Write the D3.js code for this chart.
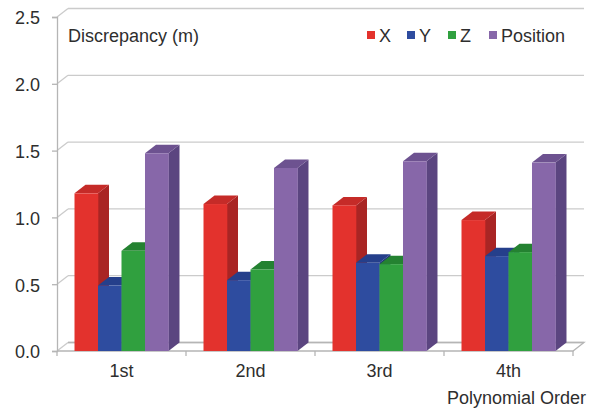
<!DOCTYPE html>
<html>
<head>
<meta charset="utf-8">
<script src="https://cdn.jsdelivr.net/npm/d3@7"></script>
<style>
  html, body { margin: 0; padding: 0; background: #fff; }
  svg { display: block; font-family: "Liberation Sans", Arial, sans-serif; }
</style>
</head>
<body>
<svg id="chart" width="594" height="408"></svg>
<script>
// Discrepancy by polynomial order, per component
const categories = ["1st", "2nd", "3rd", "4th"];
const seriesNames = ["X", "Y", "Z", "Position"];
const xValues = [1.18, 1.10, 1.09, 0.98];
const yValues = [0.49, 0.53, 0.66, 0.71];
const zValues = [0.75, 0.61, 0.65, 0.74];
const positionValues = [1.48, 1.37, 1.42, 1.41];
const yTicks = [0, 0.5, 1.0, 1.5, 2.0, 2.5];

const seriesValues = [xValues, yValues, zValues, positionValues];
const palette = [
  { front: "#e3322d", top: "#c52b28", side: "#a92524" },
  { front: "#2e4c9f", top: "#253f8b", side: "#1f3476" },
  { front: "#30a03f", top: "#248231", side: "#1e6e2a" },
  { front: "#8767a9", top: "#6d5290", side: "#5b4580" }
];

const svg = d3.select("#chart");
const left = 57, right = 573, bottom = 351, topY = 17;
const depth = { dx: 11, dy: -8.5 };

const y = d3.scaleLinear().domain([0, 2.5]).range([bottom, topY]);
const x0 = d3.scaleBand().domain(categories).range([left, right]).padding(0);
const x1 = d3.scaleBand().domain(seriesNames).range([0, x0.bandwidth()])
  .paddingInner(0).paddingOuter(0.745);

const grid = "#cbcbcb";
const axisColor = "#b5b5b5";
const textColor = "#2e2e2e";

// Back wall gridlines and side-wall connectors
const g = svg.append("g");
yTicks.forEach(t => {
  const yf = y(t);
  g.append("line")
    .attr("x1", left + depth.dx).attr("y1", yf + depth.dy)
    .attr("x2", right + depth.dx).attr("y2", yf + depth.dy)
    .attr("stroke", grid).attr("stroke-width", 1.3);
  g.append("line")
    .attr("x1", left).attr("y1", yf)
    .attr("x2", left + depth.dx).attr("y2", yf + depth.dy)
    .attr("stroke", grid).attr("stroke-width", 1.3);
});

// Floor outline
g.append("path")
  .attr("d", `M${left},${bottom} L${right},${bottom} L${right + depth.dx},${bottom + depth.dy} L${left + depth.dx},${bottom + depth.dy}`)
  .attr("fill", "none").attr("stroke", axisColor).attr("stroke-width", 1.3);

// Vertical axis with ticks and labels
const yAxis = d3.axisLeft(y).tickValues(yTicks).tickFormat(d3.format(".1f"))
  .tickSize(5).tickPadding(12);
const ya = svg.append("g").attr("transform", `translate(${left},0)`).call(yAxis);
ya.select(".domain").attr("stroke", axisColor).attr("stroke-width", 1.3);
ya.selectAll(".tick line").attr("stroke", axisColor).attr("stroke-width", 1.3);
ya.selectAll(".tick text").attr("fill", textColor)
  .style("font-size", "18px").attr("dy", "0.38em");

// Category ticks along the floor front edge
const bounds = categories.map(c => x0(c)).concat([right]);
bounds.forEach(b => {
  g.append("line").attr("x1", b).attr("x2", b)
    .attr("y1", bottom).attr("y2", bottom + 5)
    .attr("stroke", axisColor).attr("stroke-width", 1.3);
});

// Category labels
svg.append("g").selectAll("text").data(categories).join("text")
  .attr("x", d => x0(d) + x0.bandwidth() / 2)
  .attr("y", 377)
  .attr("text-anchor", "middle")
  .attr("fill", textColor).style("font-size", "18px")
  .text(d => d);

// 3D bars: front face, side face, top face
const bars = svg.append("g");
categories.forEach((cat, ci) => {
  seriesNames.forEach((s, si) => {
    const v = seriesValues[si][ci];
    const xl = x0(cat) + x1(s);
    const xr = xl + x1.bandwidth();
    const yt = y(v);
    const yb = y(0);
    const c = palette[si];
    const bg = bars.append("g");
    bg.append("path")
      .attr("d", `M${xr},${yb} L${xr + depth.dx},${yb + depth.dy} L${xr + depth.dx},${yt + depth.dy} L${xr},${yt} Z`)
      .attr("fill", c.side);
    bg.append("path")
      .attr("d", `M${xl},${yt} L${xl + depth.dx},${yt + depth.dy} L${xr + depth.dx},${yt + depth.dy} L${xr},${yt} Z`)
      .attr("fill", c.top);
    bg.append("rect")
      .attr("x", xl).attr("y", yt)
      .attr("width", xr - xl + 0.3).attr("height", yb - yt)
      .attr("fill", c.front);
  });
});

// Titles
svg.append("text").attr("x", 68).attr("y", 42)
  .attr("fill", textColor).style("font-size", "18px")
  .text("Discrepancy (m)");
svg.append("text").attr("x", 586).attr("y", 404)
  .attr("text-anchor", "end")
  .attr("fill", textColor).style("font-size", "18px")
  .text("Polynomial Order");

// Legend
const legendX = [367, 407, 448, 489];
const legend = svg.append("g");
seriesNames.forEach((s, i) => {
  legend.append("rect").attr("x", legendX[i]).attr("y", 31)
    .attr("width", 8).attr("height", 8).attr("fill", palette[i].front);
  legend.append("text").attr("x", legendX[i] + 12).attr("y", 42)
    .attr("fill", textColor).style("font-size", "18px").text(s);
});
</script>
</body>
</html>
